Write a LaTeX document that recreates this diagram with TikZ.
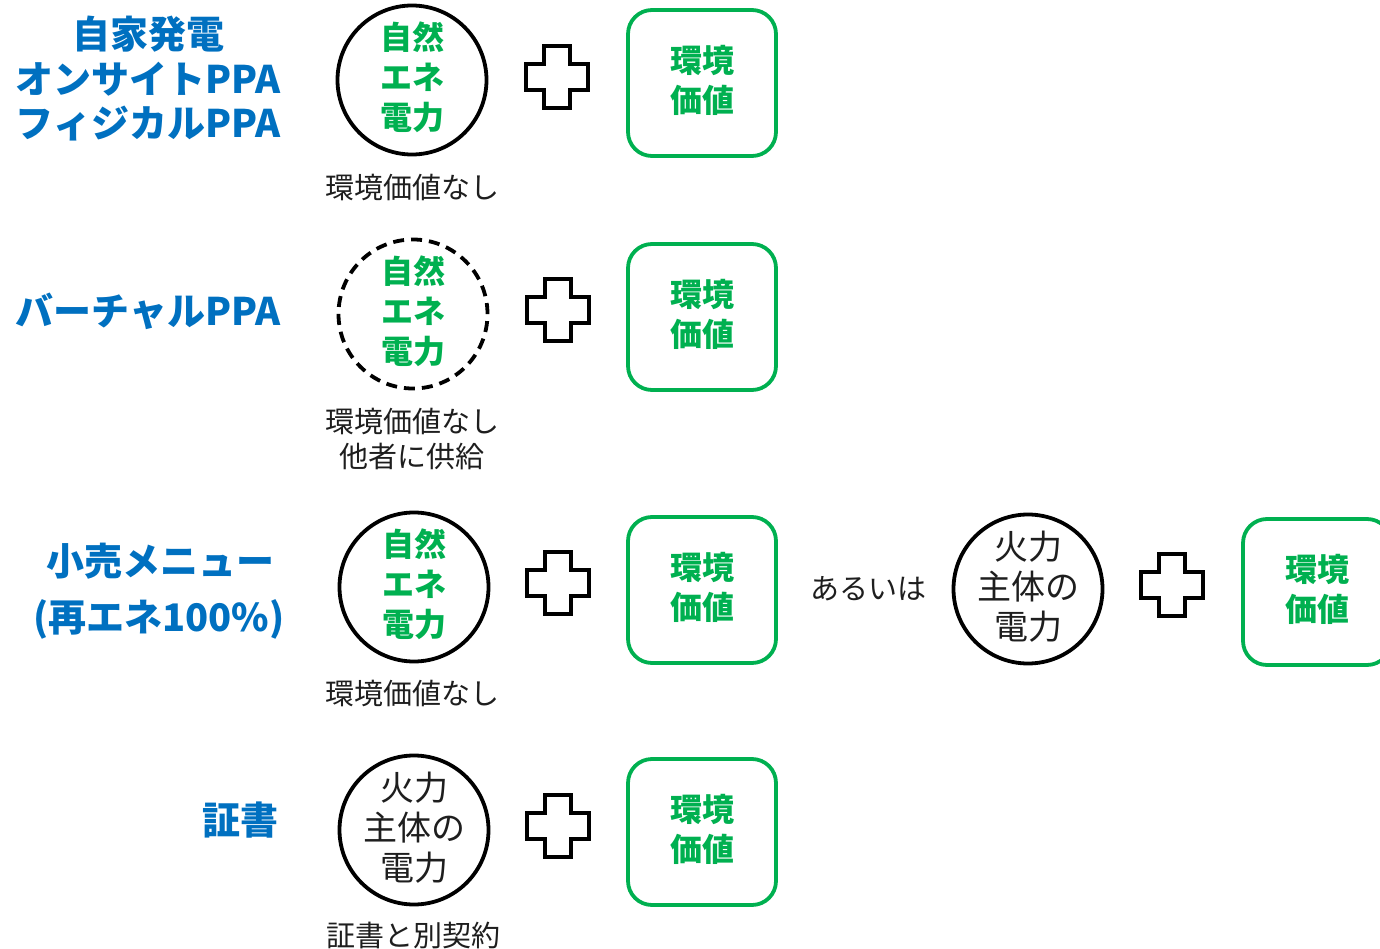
\documentclass[tikz,border=0pt]{standalone}
\usepackage{fontspec}
\newfontfamily\jp{Noto Sans CJK JP}
\definecolor{tblue}{HTML}{0070C0}
\definecolor{egreen}{HTML}{00B050}
\definecolor{tdark}{HTML}{1E1E1E}
\begin{document}
\begin{tikzpicture}[x=1pt,y=-1pt,
  title/.style={text=tblue, font=\jp\bfseries\fontsize{38}{44.5}\selectfont, align=center, inner sep=0pt},
  elec/.style={circle, draw=black, line width=3.8pt, minimum size=149pt, inner sep=0pt},
  etext/.style={text=egreen, align=center, inner sep=0pt, font=\jp\bfseries\fontsize{32}{40}\selectfont},
  ttext/.style={text=tdark, align=center, inner sep=0pt, font=\jp\fontsize{34}{40}\selectfont},
  env/.style={draw=egreen, rounded corners=24pt, line width=3.8pt, minimum width=148pt, minimum height=146pt,
    inner sep=0pt},
  note/.style={text=tdark, font=\jp\fontsize{29}{35}\selectfont, align=center, inner sep=0pt},
  plusmark/.pic={\draw[line width=3.4pt, line join=miter]
    (-31,-13) -- (-13,-13) -- (-13,-31) -- (13,-31) -- (13,-13) -- (31,-13) -- (31,13)
    -- (13,13) -- (13,31) -- (-13,31) -- (-13,13) -- (-31,13) -- cycle;}
]
\useasboundingbox (0,0) rectangle (1380,949);
\clip (0,0) rectangle (1380,949);

% Row 1
\node[title] (t1) at (148,79) {自家発電\\オンサイトPPA\\フィジカルPPA};
\node[elec] (c1) at (412,80) {};
\node[etext] (c1t) at ([yshift=3pt]c1.center) {自然\\エネ\\電力};
\node[note] (n1) at (412,187) {環境価値なし};
\pic (p1) at (557,77) {plusmark};
\node[env] (e1) at (702,83) {};
\node[etext] (e1t) at ([yshift=3pt]e1.center) {環境\\価値};

% Row 2
\node[title] (t2) at (148,311) {バーチャルPPA};
\node[elec, dash pattern=on 11pt off 7pt] (c2) at (413,314) {};
\node[etext] (c2t) at ([yshift=3pt]c2.center) {自然\\エネ\\電力};
\node[note] (n2) at (412,439) {環境価値なし\\他者に供給};
\pic (p2) at (558,310) {plusmark};
\node[env] (e2) at (702,317) {};
\node[etext] (e2t) at ([yshift=3pt]e2.center) {環境\\価値};

% Row 3
\node[title] (t3a) at (160,561) {小売メニュー};
\node[title] (t3b) at (159,619) {(再エネ100\%)};
\node[elec] (c3) at (414,587) {};
\node[etext] (c3t) at ([yshift=3pt]c3.center) {自然\\エネ\\電力};
\node[note] (n3) at (412,693) {環境価値なし};
\pic (p3) at (558,583) {plusmark};
\node[env] (e3) at (702,590) {};
\node[etext] (e3t) at ([yshift=3pt]e3.center) {環境\\価値};
\node[note] (or) at (868,589) {あるいは};
\node[elec] (c3b) at (1028,589) {};
\node[ttext] (c3bt) at ([yshift=2pt]c3b.center) {火力\\主体の\\電力};
\pic (p3b) at (1172,585) {plusmark};
\node[env] (e3b) at (1317,592) {};
\node[etext] (e3bt) at ([yshift=3pt]e3b.center) {環境\\価値};

% Row 4
\node[title] (t4) at (240,820) {証書};
\node[elec] (c4) at (414,830) {};
\node[ttext] (c4t) at ([yshift=2pt]c4.center) {火力\\主体の\\電力};
\node[note] (n4) at (413,935) {証書と別契約};
\pic (p4) at (558,826) {plusmark};
\node[env] (e4) at (702,832) {};
\node[etext] (e4t) at ([yshift=3pt]e4.center) {環境\\価値};
\end{tikzpicture}
\end{document}
